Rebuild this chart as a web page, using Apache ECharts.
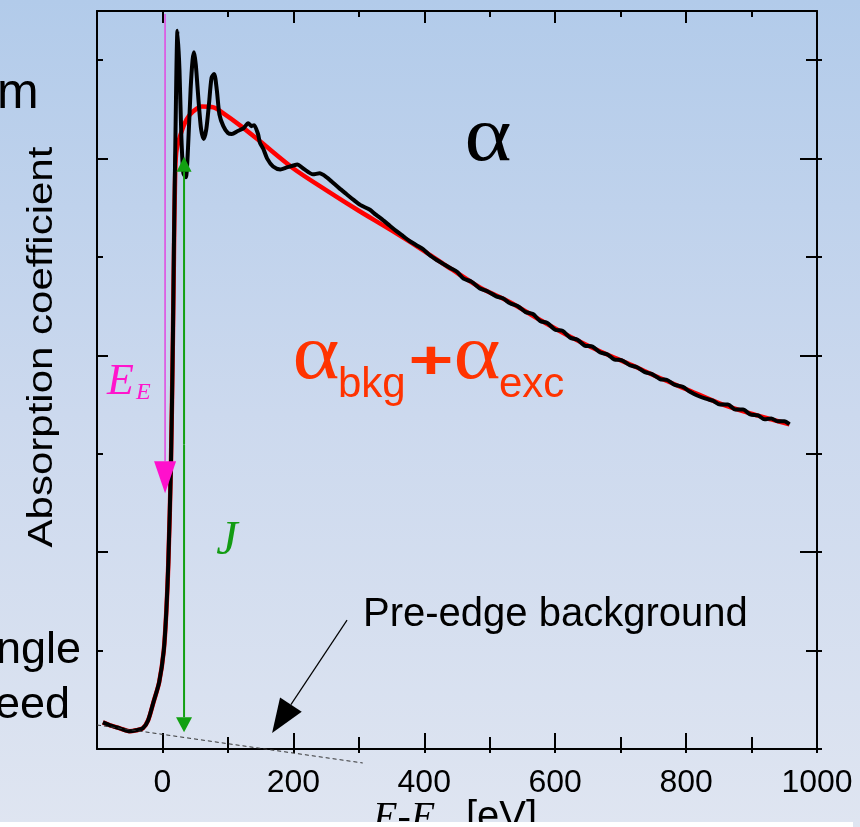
<!DOCTYPE html>
<html>
<head>
<meta charset="utf-8">
<script src="https://cdn.jsdelivr.net/npm/echarts@6/dist/echarts.min.js"></script>
<style>
html,body{margin:0;padding:0;background:#dfe6f2;}
#chart{width:860px;height:827px;}
</style>
</head>
<body>
<div id="chart"></div>
<script>
// ---- data ----
const xTickLabels = [0, 200, 400, 600, 800, 1000];
const xMinorTicks = [100, 300, 500, 700, 900];
const yMajorTicks = [0, 2, 4, 6];
const yMinorTicks = [1, 3, 5, 7];

// measured absorption coefficient (black)
const alphaE = [-91,-80,-65,-50,-40,-30,-22,-14,-5,2,6,9,13,16,17.5,20,23,26,29,32,35.7,39,43,46,48.4,51,55,59,63,67,71,75,79,83,87,93,100,106,115,124,131,136,140,146,149,154,160,169,180,190,200,206,215,230,240,251,258,270,281,292,302,317,326,336,347,358,368,378,388,398,408,419,429,439,450,460,472,485,497,510,520,531,543,555,566,577,588,600,611,623,634,645,657,669,680,690,702,714,725,737,748,760,771,783,795,806,818,830,841,852,864,875,887,898,910,920,930,940,950,958];
const alphaV = [0.27,0.24,0.21,0.18,0.19,0.21,0.29,0.47,0.68,1.0,1.41,1.9,2.9,4.2,5.1,6.3,7.30,6.9,6.2,5.85,5.81,6.1,6.7,7.0,7.08,6.95,6.6,6.3,6.2,6.3,6.55,6.82,6.86,6.7,6.45,6.33,6.26,6.25,6.28,6.31,6.36,6.33,6.34,6.25,6.16,6.1,6.0,5.92,5.89,5.91,5.93,5.94,5.90,5.84,5.85,5.81,5.77,5.70,5.64,5.58,5.53,5.48,5.43,5.38,5.32,5.26,5.21,5.16,5.12,5.08,5.02,4.97,4.93,4.89,4.85,4.78,4.75,4.68,4.65,4.60,4.58,4.53,4.50,4.44,4.42,4.35,4.33,4.26,4.25,4.18,4.16,4.10,4.09,4.03,4.01,3.96,3.95,3.90,3.88,3.83,3.81,3.76,3.75,3.70,3.68,3.63,3.59,3.56,3.54,3.50,3.50,3.45,3.45,3.40,3.39,3.35,3.36,3.33,3.33,3.30];

// background + excitation fit (red)
const fitE = [-91,-80,-65,-50,-40,-30,-22,-14,-5,2,6,9,13,16,17.5,19,21,27,37,47,60,78,91,120,150,200,250,300,350,400,429,450,485,531,577,623,669,714,760,806,852,898,930,958];
const fitV = [0.27,0.24,0.21,0.18,0.19,0.21,0.29,0.47,0.68,1.0,1.41,1.9,2.9,4.2,5.0,5.7,6.06,6.23,6.40,6.48,6.53,6.52,6.47,6.33,6.17,5.90,5.68,5.47,5.27,5.06,4.93,4.84,4.69,4.54,4.36,4.19,4.04,3.91,3.77,3.64,3.51,3.41,3.35,3.30];

// annotations (data coordinates)
const edgeArrow = [[4, 7.47], [4, 2.6]];          // E_E marker (magenta)
const jumpArrow = [[33, 0.17], [33, 6.02]];        // J edge jump (green)
const preEdgeLine = [[-100, 0.244], [306, -0.142]]; // dashed pre-edge background
const pointerArrow = [[282, 1.31], [167.5, 0.163]]; // arrow from label

const SANS = '"Liberation Sans", Arial, sans-serif';
const SERIF = '"Liberation Serif", "Times New Roman", serif';

const chart = echarts.init(document.getElementById('chart'), null, {renderer: 'canvas'});

function pairs(xs, ys) { return xs.map((x, i) => [x, ys[i]]); }

function arrowShape(p0, p1, headLen, headW, color, lw, lineColor) {
  const dx = p1[0] - p0[0], dy = p1[1] - p0[1];
  const L = Math.sqrt(dx * dx + dy * dy);
  const ux = dx / L, uy = dy / L;
  const bx = p1[0] - ux * headLen, by = p1[1] - uy * headLen;
  const nx = -uy, ny = ux;
  return [
    {type: 'line', shape: {x1: p0[0], y1: p0[1], x2: bx, y2: by},
     style: {stroke: lineColor || color, lineWidth: lw}},
    {type: 'polygon', shape: {points: [[p1[0], p1[1]], [bx + nx * headW / 2, by + ny * headW / 2], [bx - nx * headW / 2, by - ny * headW / 2]]},
     style: {fill: color}}
  ];
}

function renderAnno(params, api) {
  const i = params.dataIndex;
  if (i === 0) {
    const a = api.coord(edgeArrow[0]), b = api.coord(edgeArrow[1]);
    return {type: 'group', children: arrowShape(a, b, 32, 22, '#ff10cc', 1.6, '#e050e0')};
  }
  if (i === 1) {
    const a = api.coord(jumpArrow[0]), b = api.coord(jumpArrow[1]);
    const m = [(a[0] + b[0]) / 2, (a[1] + b[1]) / 2];
    return {type: 'group', children: arrowShape(m, a, 15, 16, '#12a012', 2).concat(arrowShape(m, b, 15, 15, '#12a012', 2))};
  }
  if (i === 2) {
    const a = api.coord(preEdgeLine[0]), b = api.coord(preEdgeLine[1]);
    return {type: 'line', shape: {x1: a[0], y1: a[1], x2: b[0], y2: b[1]},
      style: {stroke: '#333', lineWidth: 1, lineDash: [4, 3]}};
  }
  if (i === 3) {
    const a = api.coord(pointerArrow[0]), b = api.coord(pointerArrow[1]);
    return {type: 'group', children: arrowShape(a, b, 34, 26, '#000', 1.2)};
  }
  return null;
}

const axisLineStyle = {color: '#000', width: 2};
const tickStyle = {color: '#000', width: 2};
const X = {type: 'value', min: -100, max: 1000, splitLine: {show: false}};
const Y = {type: 'value', min: 0, max: 7.5, splitLine: {show: false}, axisLabel: {show: false}};

const option = {
  animation: false,
  backgroundColor: 'transparent',
  grid: {left: 97, right: 43, top: 11, bottom: 78, containLabel: false},
  xAxis: [
    Object.assign({}, X, {position: 'bottom', axisLine: {show: true, onZero: false, lineStyle: axisLineStyle},
      axisTick: {show: true, inside: false, length: 4, lineStyle: tickStyle, customValues: xTickLabels.concat(xMinorTicks)},
      axisLabel: {show: true, customValues: xTickLabels, formatter: v => String(v), fontSize: 32, fontFamily: SANS, color: '#000', margin: 18}}),
    Object.assign({}, X, {position: 'bottom', axisLine: {show: false, onZero: false},
      axisTick: {show: true, inside: true, length: 16, lineStyle: tickStyle, customValues: xTickLabels}, axisLabel: {show: false}}),
    Object.assign({}, X, {position: 'bottom', axisLine: {show: false, onZero: false},
      axisTick: {show: true, inside: true, length: 12, lineStyle: tickStyle, customValues: xMinorTicks}, axisLabel: {show: false}}),
    Object.assign({}, X, {position: 'top', axisLine: {show: true, onZero: false, lineStyle: axisLineStyle},
      axisTick: {show: true, inside: true, length: 12, lineStyle: tickStyle, customValues: xTickLabels}, axisLabel: {show: false}}),
    Object.assign({}, X, {position: 'top', axisLine: {show: false, onZero: false},
      axisTick: {show: true, inside: true, length: 6, lineStyle: tickStyle, customValues: xMinorTicks}, axisLabel: {show: false}})
  ],
  yAxis: [
    Object.assign({}, Y, {position: 'left', axisLine: {show: true, onZero: false, lineStyle: axisLineStyle},
      axisTick: {show: true, inside: true, length: 11, lineStyle: tickStyle, customValues: yMajorTicks}}),
    Object.assign({}, Y, {position: 'left', axisLine: {show: false, onZero: false},
      axisTick: {show: true, inside: true, length: 6, lineStyle: tickStyle, customValues: yMinorTicks}}),
    Object.assign({}, Y, {position: 'right', axisLine: {show: true, onZero: false, lineStyle: axisLineStyle},
      axisTick: {show: true, inside: true, length: 17, lineStyle: tickStyle, customValues: yMajorTicks}}),
    Object.assign({}, Y, {position: 'right', axisLine: {show: false, onZero: false},
      axisTick: {show: true, inside: true, length: 11, lineStyle: tickStyle, customValues: yMinorTicks}}),
    Object.assign({}, Y, {position: 'right', axisLine: {show: false, onZero: false},
      axisTick: {show: true, inside: false, length: 5, lineStyle: tickStyle, customValues: yMajorTicks.concat(yMinorTicks)}})
  ],
  series: [
    {type: 'line', name: 'fit', data: pairs(fitE, fitV), xAxisIndex: 0, yAxisIndex: 0,
     showSymbol: false, smooth: 0.3, lineStyle: {color: '#ff0000', width: 4.5}, z: 2},
    {type: 'line', name: 'alpha', data: pairs(alphaE, alphaV), xAxisIndex: 0, yAxisIndex: 0,
     showSymbol: false, smooth: 0.25, lineStyle: {color: '#000000', width: 4}, z: 3},
    {type: 'custom', name: 'anno', xAxisIndex: 0, yAxisIndex: 0, clip: false, z: 4,
     data: [0, 1, 2, 3], renderItem: renderAnno}
  ],
  graphic: [
    {type: 'rect', z: -10, silent: true, shape: {x: 0, y: 0, width: 860, height: 827},
     style: {fill: new echarts.graphic.LinearGradient(0, 0, 0, 1, [
       {offset: 0, color: '#b2cbea'}, {offset: 0.5, color: '#ccd9ee'}, {offset: 1, color: '#dfe5f1'}])}},
    {type: 'text', x: -3, y: 94, style: {text: 'm', font: '50px ' + SANS, fill: '#000', align: 'left', verticalAlign: 'middle'}},
    {type: 'text', x: 42, y: 347, rotation: Math.PI / 2, scaleX: 1.2,
     style: {text: 'Absorption coefficient', font: '35px ' + SANS, fill: '#000', align: 'center', verticalAlign: 'middle'}},
    {type: 'text', x: 81, y: 651, style: {text: 'ngle', font: '45px ' + SANS, fill: '#000', align: 'right', verticalAlign: 'middle'}},
    {type: 'text', x: 70, y: 706, style: {text: 'eed', font: '45px ' + SANS, fill: '#000', align: 'right', verticalAlign: 'middle'}},
    {type: 'text', x: 488, y: 140, scaleX: 1.15, style: {text: 'α', font: '78px ' + SERIF, fill: '#000', align: 'center', verticalAlign: 'middle'}},
    {type: 'text', x: 316, y: 358, scaleX: 1.15, style: {text: 'α', font: '78px ' + SERIF, fill: '#ff3300', align: 'center', verticalAlign: 'middle'}},
    {type: 'text', x: 338, y: 385, style: {text: 'bkg', font: '42px ' + SANS, fill: '#ff3300', align: 'left', verticalAlign: 'middle'}},
    {type: 'text', x: 431, y: 363, scaleX: 1.45, style: {text: '+', font: 'bold 53px ' + SANS, fill: '#ff3300', align: 'center', verticalAlign: 'middle'}},
    {type: 'text', x: 477, y: 358, scaleX: 1.15, style: {text: 'α', font: '78px ' + SERIF, fill: '#ff3300', align: 'center', verticalAlign: 'middle'}},
    {type: 'text', x: 499, y: 385, style: {text: 'exc', font: '42px ' + SANS, fill: '#ff3300', align: 'left', verticalAlign: 'middle'}},
    {type: 'text', x: 107, y: 382, style: {text: 'E', font: 'italic 44px ' + SERIF, fill: '#ff14cc', align: 'left', verticalAlign: 'middle'}},
    {type: 'text', x: 136, y: 393, style: {text: 'E', font: 'italic 24px ' + SERIF, fill: '#ff14cc', align: 'left', verticalAlign: 'middle'}},
    {type: 'text', x: 227, y: 541, style: {text: 'J', font: 'italic 48px ' + SERIF, fill: '#139c13', align: 'center', verticalAlign: 'middle'}},
    {type: 'text', x: 363, y: 615, style: {text: 'Pre-edge background', font: '40px ' + SANS, fill: '#000', align: 'left', verticalAlign: 'middle'}},
    {type: 'text', x: 373, y: 818, style: {text: 'E-E', font: 'italic 40px ' + SERIF, fill: '#000', align: 'left', verticalAlign: 'middle'}},
    {type: 'text', x: 444, y: 831, style: {text: '0', font: '24px ' + SERIF, fill: '#000', align: 'left', verticalAlign: 'middle'}},
    {type: 'text', x: 466, y: 818, style: {text: '[eV]', font: '40px ' + SANS, fill: '#000', align: 'left', verticalAlign: 'middle'}},
    {type: 'rect', z: 10, silent: true, shape: {x: 0, y: 822, width: 853, height: 10}, style: {fill: '#ffffff'}}
  ]
};
chart.setOption(option);
</script>
</body>
</html>
